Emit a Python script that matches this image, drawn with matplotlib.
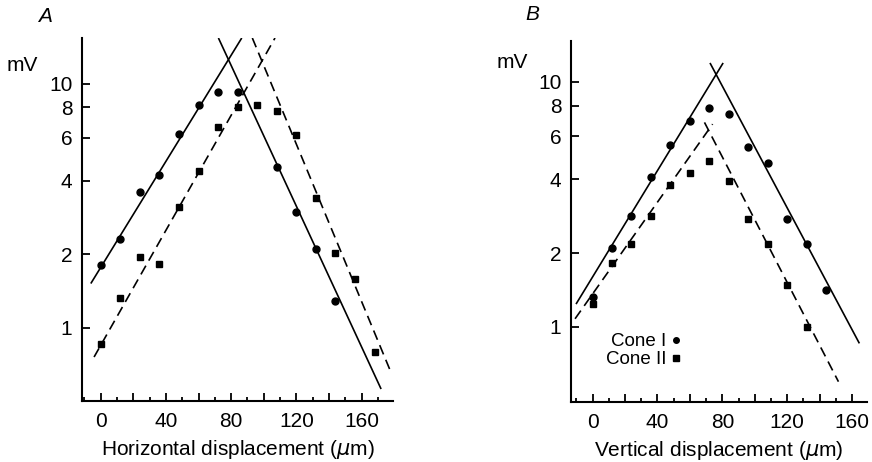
import matplotlib
matplotlib.use("Agg")
import matplotlib.pyplot as plt
from matplotlib.ticker import FixedLocator, FixedFormatter, MultipleLocator, FuncFormatter, NullLocator

plt.rcParams['font.family'] = ['Liberation Sans', 'DejaVu Sans']
plt.rcParams['mathtext.fontset'] = 'dejavusans'

# Panel A: horizontal displacement (um) vs response (mV)
a_x_cone1 = [0, 12, 24, 36, 48, 60, 72, 84, 108, 120, 132, 144]
a_cone1 = [1.81, 2.32, 3.6, 4.24, 6.22, 8.2, 9.27, 9.27, 4.57, 2.98, 2.11, 1.29]
a_x_cone2 = [0, 12, 24, 36, 48, 60, 72, 84, 96, 108, 120, 132, 144, 156, 168]
a_cone2 = [0.86, 1.32, 1.95, 1.83, 3.14, 4.4, 6.66, 8.07, 8.15, 7.75, 6.16, 3.39, 2.03, 1.59, 0.80]

# Panel A fitted lines (end points, x in um, y in mV)
a_fit1_rise = ([-6.1, 86.5], [1.52, 15.4])
a_fit1_fall = ([72.2, 172.0], [15.4, 0.562])
a_fit2_rise = ([-4.1, 106.9], [0.76, 15.4])
a_fit2_fall = ([93.0, 178.5], [15.4, 0.647])

# Panel B: vertical displacement (um) vs response (mV)
b_x_cone1 = [0, 12, 24, 36, 48, 60, 72, 84, 96, 108, 120, 132, 144]
b_cone1 = [1.32, 2.1, 2.84, 4.08, 5.52, 6.93, 7.81, 7.42, 5.44, 4.67, 2.77, 2.18, 1.41]
b_x_cone2 = [0, 12, 24, 36, 48, 60, 72, 84, 96, 108, 120, 132]
b_cone2 = [1.24, 1.82, 2.18, 2.85, 3.8, 4.24, 4.77, 3.95, 2.75, 2.18, 1.49, 1.0]

# Panel B fitted lines
b_fit1_rise = ([-10.2, 80.5], [1.24, 11.96])
b_fit1_fall = ([72.4, 164.5], [11.96, 0.857])
b_fit2_rise = ([-10.8, 74.0], [1.08, 6.73])
b_fit2_fall = ([69.0, 151.6], [6.84, 0.598])

y_ticks = [1, 2, 4, 6, 8, 10]
y_tick_labels = ['1', '2', '4', '6', '8', '10']
x_label_a = r'Horizontal displacement ($\mu$m)'
x_label_b = r'Vertical displacement ($\mu$m)'

W, H = 872, 462
fig = plt.figure(figsize=(W / 100, H / 100), dpi=100)


def px_axes(left, right, top, bottom):
    return fig.add_axes([left / W, 1 - bottom / H, (right - left) / W, (bottom - top) / H])


ax_a = px_axes(82, 393, 38, 401)
ax_b = px_axes(571, 867, 41, 402)

dash = (0, (6, 3.5))
lw_fit = 1.2
fs = 15

for ax, (x1, y1, x2, y2, fits, xlim, ylim, xlabel) in [
    (ax_a, (a_x_cone1, a_cone1, a_x_cone2, a_cone2,
            (a_fit1_rise, a_fit1_fall, a_fit2_rise, a_fit2_fall),
            (-11.5, 179.3), (0.502, 15.4), x_label_a)),
    (ax_b, (b_x_cone1, b_cone1, b_x_cone2, b_cone2,
            (b_fit1_rise, b_fit1_fall, b_fit2_rise, b_fit2_fall),
            (-13.3, 169.2), (0.494, 14.7), x_label_b)),
]:
    ax.set_yscale('log')
    r1, f1, r2, f2 = fits
    ax.plot(*r1, color='black', lw=lw_fit, solid_capstyle='butt')
    ax.plot(*f1, color='black', lw=lw_fit, solid_capstyle='butt')
    ax.plot(*r2, color='black', lw=lw_fit, linestyle=dash)
    ax.plot(*f2, color='black', lw=lw_fit, linestyle=dash)
    ax.plot(x1, y1, linestyle='none', marker='o', ms=5, color='black', label='Cone I')
    ax.plot(x2, y2, linestyle='none', marker='s', ms=4.6, color='black', label='Cone II')

    ax.set_xlim(*xlim)
    ax.set_ylim(*ylim)
    for s in ('top', 'right'):
        ax.spines[s].set_visible(False)
    for s in ('left', 'bottom'):
        ax.spines[s].set_linewidth(1.5)

    ax.yaxis.set_major_locator(FixedLocator(y_ticks))
    ax.yaxis.set_major_formatter(FixedFormatter(y_tick_labels))
    ax.yaxis.set_minor_locator(NullLocator())
    ax.xaxis.set_major_locator(MultipleLocator(20))
    ax.xaxis.set_minor_locator(MultipleLocator(10))
    ax.xaxis.set_major_formatter(FuncFormatter(lambda v, p: f'{int(round(v))}' if round(v) % 40 == 0 else ''))

    ax.tick_params(axis='y', which='major', direction='in', length=6, width=1.3,
                   labelsize=fs, pad=7)
    ax.tick_params(axis='x', which='major', direction='in', length=6, width=1.3,
                   labelsize=fs, pad=8)
    ax.tick_params(axis='x', which='minor', direction='in', length=3, width=1.3)
    ax.set_xlabel(xlabel, fontsize=fs, labelpad=5)

fig.text(45 / W, 1 - 17 / H, 'A', fontsize=fs, style='italic', ha='center', va='center')
fig.text(532 / W, 1 - 15 / H, 'B', fontsize=fs, style='italic', ha='center', va='center')
fig.text(22 / W, 1 - 66 / H, 'mV', fontsize=fs, ha='center', va='center')
fig.text(512 / W, 1 - 62 / H, 'mV', fontsize=fs, ha='center', va='center')

leg = ax_b.legend(loc='upper left', bbox_to_anchor=((593 - 571) / 296, 1 - (320 - 41) / 361),
                  frameon=False, markerfirst=False, handlelength=0.4, handletextpad=0.3,
                  labelspacing=0.05, fontsize=13.5, markerscale=0.8, borderpad=0.2)

fig.savefig('out.png', dpi=100)
